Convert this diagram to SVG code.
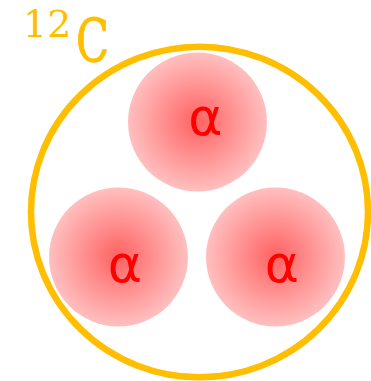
<svg xmlns="http://www.w3.org/2000/svg" width="371" height="381" viewBox="0 0 371 381">
  <style>
    .label { fill: #FFBF00; font-family: "DejaVu Serif", serif; }
    .alpha { fill: #FF0000; font-family: "DejaVu Sans", sans-serif; font-size: 52px; text-anchor: middle; }
    .nucleon { fill: url(#g); }
  </style>
  <defs>
    <radialGradient id="g" cx="0.5" cy="0.5" r="0.5">
      <stop offset="0" stop-color="#FF0000" stop-opacity="0.62"/>
      <stop offset="1" stop-color="#FF0000" stop-opacity="0.25"/>
    </radialGradient>
  </defs>
  <g id="nucleus">
    <ellipse cx="199.5" cy="212" rx="168.5" ry="165.3" fill="none" stroke="#FFBF00" stroke-width="6.5"/>
  </g>
  <g id="alpha-top">
    <circle class="nucleon" cx="197.5" cy="122" r="69.5"/>
    <text class="alpha" x="205.5" y="135">α</text>
  </g>
  <g id="alpha-left">
    <circle class="nucleon" cx="118.5" cy="257" r="69.5"/>
    <text class="alpha" x="125" y="282">α</text>
  </g>
  <g id="alpha-right">
    <circle class="nucleon" cx="275.5" cy="257" r="69.5"/>
    <text class="alpha" x="282" y="282">α</text>
  </g>
  <g id="title">
    <text class="label" x="23" y="37" font-size="38">12</text>
    <text class="label" x="76" y="62" font-size="60" textLength="33" lengthAdjust="spacingAndGlyphs" stroke="#FFBF00" stroke-width="1">C</text>
  </g>
</svg>
